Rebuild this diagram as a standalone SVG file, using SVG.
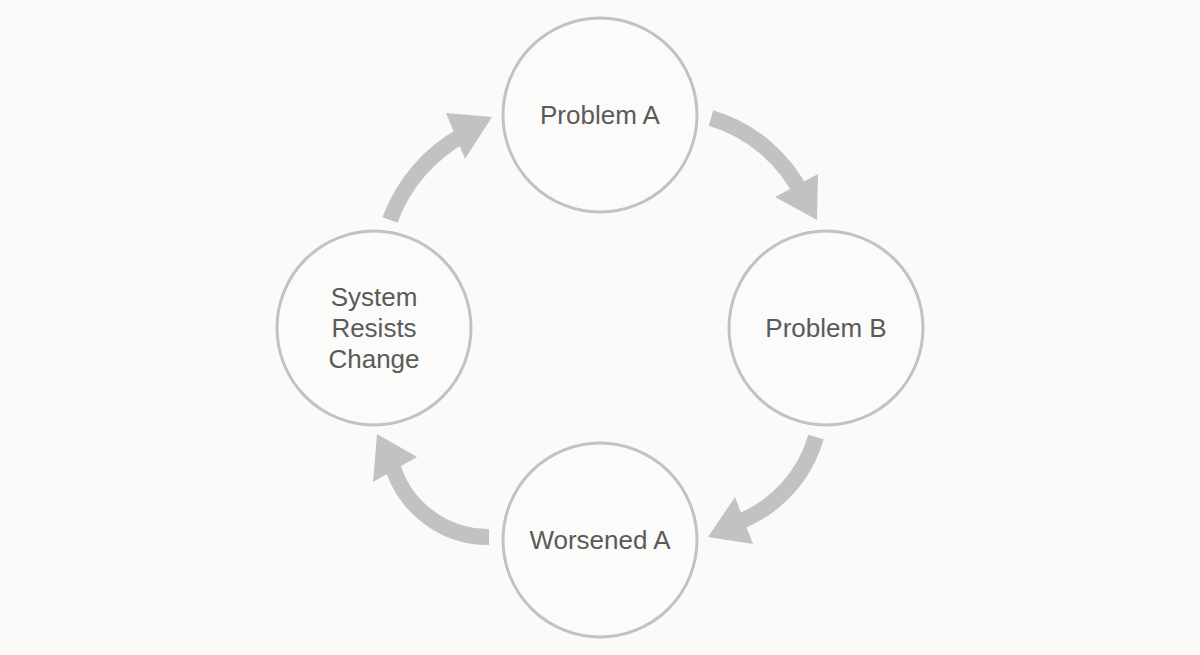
<svg xmlns="http://www.w3.org/2000/svg" width="1200" height="655" viewBox="0 0 1200 655">
<style>
.node circle{fill:#fbfbf9;stroke:#c2c2c2;stroke-width:3}
.node text{font-family:"Liberation Sans",Arial,sans-serif;font-size:26px;fill:#5a5a5a;text-anchor:middle}
.shaft{fill:none;stroke:#c2c2c2;stroke-width:16}
.head{fill:#c2c2c2}
</style>
<rect width="1200" height="655" fill="#fafaf8"/>
<g id="connectors">
<path class="shaft" d="M711,118 A150,150 0 0 1 803,196"/>
<polygon class="head" points="775,197 818,174 817,220"/>
<path class="shaft" d="M816,437 A130,130 0 0 1 739,522"/>
<polygon class="head" points="735,497 753,544 708,537"/>
<path class="shaft" d="M489,537 A100,100 0 0 1 391,460"/>
<polygon class="head" points="373,482 417,457 377,434"/>
<path class="shaft" d="M390,220 A160,160 0 0 1 463,135"/>
<polygon class="head" points="446,113 465,159 492,117"/>
</g>
<g id="problemA" class="node"><circle cx="600" cy="115" r="97"/><text x="600" y="124">Problem A</text></g>
<g id="problemB" class="node"><circle cx="826" cy="328" r="97"/><text x="826" y="337">Problem B</text></g>
<g id="worsenedA" class="node"><circle cx="600" cy="540" r="97"/><text x="600" y="549">Worsened A</text></g>
<g id="systemResists" class="node"><circle cx="374" cy="328" r="97"/><text x="374" y="306">System</text><text x="374" y="337">Resists</text><text x="374" y="368">Change</text></g>
</svg>
